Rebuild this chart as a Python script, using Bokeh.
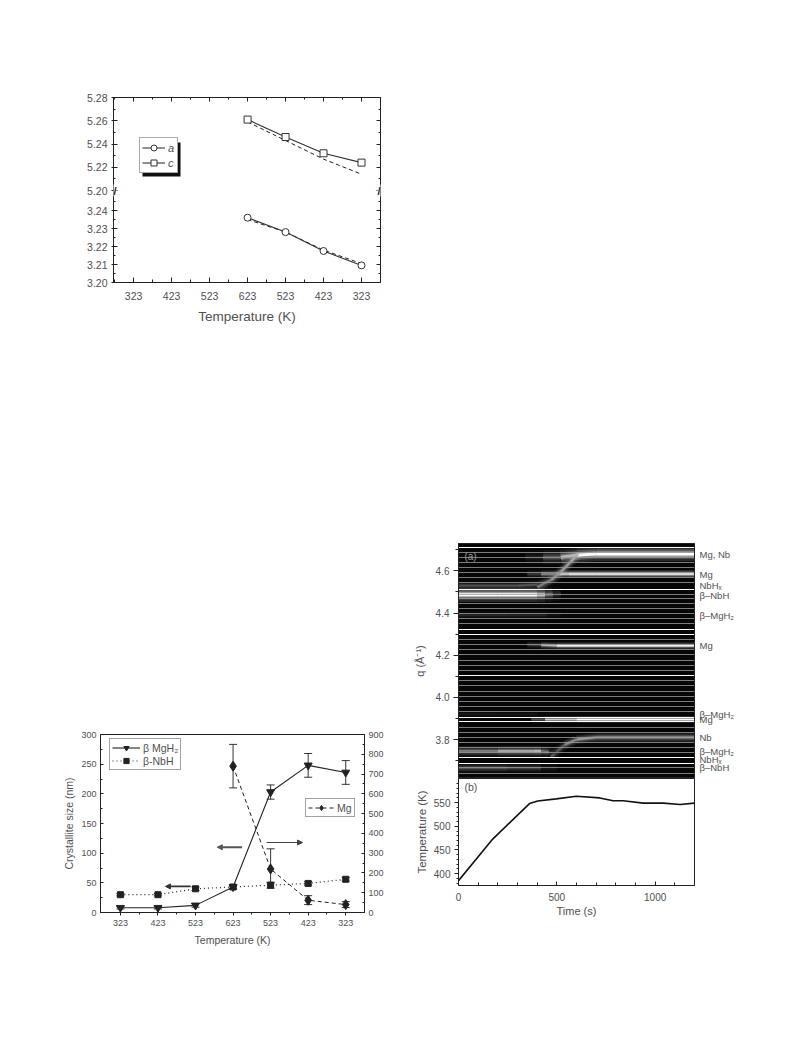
from bokeh.plotting import figure
from bokeh.layouts import column, row
from bokeh.models import (Range1d, LinearAxis, FixedTicker, Legend, LegendItem, Label, BoxAnnotation,
                          Arrow, NormalHead, TeeHead, Whisker, ColumnDataSource, Spacer, CustomJSTickFormatter,
                          NumeralTickFormatter)
from bokeh.embed import file_html
from bokeh.resources import INLINE

FONT = "Liberation Sans"
GREY = "#505050"

# ---------- panel 1: lattice parameters ----------
temp_labels = ["323", "423", "523", "623", "523", "423", "323"]
cool_idx = [3, 4, 5, 6]
lat_c = [5.261, 5.246, 5.232, 5.224]
lat_c_ref = [5.259, 5.243, 5.227, 5.214]
lat_a = [3.236, 3.228, 3.2175, 3.2095]
lat_a_ref = [3.235, 3.228, 3.218, 3.2105]
low_ticks = [3.20, 3.21, 3.22, 3.23, 3.24]
up_ticks = [5.20, 5.22, 5.24, 5.26, 5.28]

# ---------- panel 2: crystallite size ----------
idx = [0, 1, 2, 3, 4, 5, 6]
mgh2 = [8, 8, 12, 43, 203, 248, 236]
mgh2_err = [2, 2, 3, 4, 12, 20, 20]
nbh = [30, 30, 40, 43, 46, 49, 56]
nbh_err = [2, 2, 3, 3, 5, 3, 3]
mg_idx = [3, 4, 5, 6]
mg = [740, 220, 62, 40]
mg_low = [630, 150, 40, 25]
mg_up = [850, 322, 85, 55]

# ---------- panel 3a: in-situ diffraction bands ----------
band_t = [[340, 430, 520, 600, 700, 1200], [350, 420, 500, 560, 700, 1200], [0, 300, 400, 450], [0, 200, 400, 440, 480, 520],
          [400, 470, 520, 570, 610], [0, 250, 450, 520], [350, 420, 500, 1200], [0, 200, 400, 470],
          [370, 440, 600, 1200], [470, 540, 600, 700, 1200], [0, 200, 380, 420, 460, 500], [0, 250, 420, 500]]
band_q = [[4.665, 4.665, 4.665, 4.675, 4.68, 4.68], [4.585, 4.585, 4.585, 4.585, 4.585, 4.585], [4.53, 4.53, 4.535, 4.54],
          [4.487, 4.487, 4.487, 4.487, 4.49, 4.492],
          [4.524, 4.556, 4.595, 4.643, 4.68], [4.39, 4.39, 4.39, 4.39], [4.25, 4.248, 4.245, 4.245], [3.92, 3.92, 3.92, 3.92],
          [3.895, 3.895, 3.895, 3.895], [3.718, 3.775, 3.80, 3.81, 3.81], [3.745, 3.745, 3.745, 3.745, 3.74, 3.738],
          [3.665, 3.665, 3.665, 3.665]]
band_lv = [[0.05, 0.2, 0.5, 0.95, 1.0, 1.0], [0.05, 0.4, 0.7, 0.95, 0.95, 0.95], [0.3, 0.32, 0.35, 0.1], [1.0, 1.0, 1.0, 0.55, 0.3, 0.05],
           [0.45, 0.55, 0.6, 0.65, 0.7], [0.14, 0.16, 0.12, 0.02], [0.05, 0.5, 0.95, 0.95], [0.1, 0.12, 0.08, 0.02],
           [0.05, 0.6, 1.0, 1.0], [0.2, 0.5, 0.6, 0.6, 0.6], [0.45, 0.5, 0.8, 0.6, 0.3, 0.05], [0.35, 0.38, 0.2, 0.03]]
band_widths = [3.2, 1.8, 1.8, 3.2, 2.2, 1.8, 1.5, 1.3, 1.5, 2.0, 2.4, 2.0]
bright_lines = [4.710, 4.511, 4.321, 4.297, 4.103, 3.906, 3.885, 3.714, 3.688]
dim_lines = [4.686, 4.663, 4.639, 4.615, 4.591, 4.568, 4.544, 4.489, 4.468, 4.444, 4.420, 4.397, 4.373, 4.349,
             4.273, 4.249, 4.225, 4.202, 4.176, 4.152, 4.128, 4.078, 4.054, 4.030, 4.006, 3.982, 3.957, 3.933,
             3.859, 3.835, 3.810, 3.788, 3.763, 3.737, 3.666, 3.640]
phase_q = [4.68, 4.585, 4.53, 4.485, 4.39, 4.245, 3.92, 3.893, 3.81, 3.745, 3.705, 3.665]
phase_labels = ["Mg, Nb", "Mg", "NbHₓ", "β–NbH", "β–MgH₂", "Mg", "β–MgH₂", "Mg", "Nb", "β–MgH₂", "NbHₓ", "β–NbH"]

# ---------- panel 3b: temperature ramp ----------
time_s = [0, 174, 361, 403, 497, 599, 718, 786, 837, 939, 1042, 1127, 1200]
temp_k = [385, 473, 548, 553.5, 558, 563.5, 560, 554, 554, 549, 549, 546, 549]


def style_axis(ax, tick=10.5, label=13.5, standoff=4):
    ax.axis_line_color = "#222222"
    ax.major_tick_line_color = "#222222"
    ax.minor_tick_line_color = "#222222"
    ax.major_label_text_color = GREY
    ax.axis_label_text_color = GREY
    ax.major_label_text_font = FONT
    ax.axis_label_text_font = FONT
    ax.major_label_text_font_size = f"{tick}px"
    ax.axis_label_text_font_size = f"{label}px"
    ax.axis_label_text_font_style = "normal"
    ax.axis_label_standoff = standoff
    ax.major_label_standoff = 4


def mirror(p, side, ticker):
    ax = LinearAxis(ticker=ticker, formatter=CustomJSTickFormatter(code="return ''"), major_label_standoff=0,
                    axis_line_color="#222222", major_tick_line_color="#222222", minor_tick_line_color="#222222",
                    major_tick_in=4, major_tick_out=0, minor_tick_in=2, minor_tick_out=0)
    p.add_layout(ax, side)
    return ax


# ===== Panel 1 =====
low_start, low_end = 3.20, 3.20 + 185 / 1800
up_end = 5.28
up_start = 5.20 - 92 * 0.02 / 23.25
p1 = figure(frame_width=267, frame_height=185, x_range=Range1d(-0.53, 6.5), y_range=Range1d(low_start, low_end),
            output_backend="svg", toolbar_location=None, min_border_left=113, min_border_right=20,
            min_border_top=97, min_border_bottom=50, outline_line_color="#222222")
p1.extra_y_ranges = {"upper": Range1d(up_start, up_end)}
p1.grid.visible = False


def up_to_low(v):
    return low_start + (v - up_start) / (up_end - up_start) * (low_end - low_start)


lat_major = low_ticks + [up_to_low(v) for v in up_ticks]
lat_minor = [3.205, 3.215, 3.225, 3.235, 3.245] + [up_to_low(v) for v in [5.21, 5.23, 5.25, 5.27]]
lat_ticker = FixedTicker(ticks=lat_major, minor_ticks=lat_minor)
p1.yaxis.ticker = lat_ticker
p1.yaxis.major_label_overrides = {**{t: f"{t:.2f}" for t in low_ticks},
                                  **{up_to_low(t): f"{t:.2f}" for t in up_ticks}}
style_axis(p1.yaxis[0])
p1.yaxis.major_tick_in = 4
p1.yaxis.major_tick_out = 2
p1.yaxis.minor_tick_in = 2
p1.yaxis.minor_tick_out = 0
x_ticker = FixedTicker(ticks=idx, minor_ticks=[i + 0.5 for i in idx[:-1]] + [-0.5])
p1.xaxis.ticker = x_ticker
p1.xaxis.major_label_overrides = {i: s for i, s in zip(idx, temp_labels)}
style_axis(p1.xaxis[0], standoff=6)
p1.xaxis.axis_label = "Temperature (K)"
p1.xaxis.major_tick_in = 5
p1.xaxis.major_tick_out = 0
p1.xaxis.minor_tick_in = 3
p1.xaxis.minor_tick_out = 0
p1.xaxis.major_label_standoff = 9
mirror(p1, "above", x_ticker)
mirror(p1, "right", lat_ticker)

p1.line(cool_idx, lat_c_ref, y_range_name="upper", line_color="#222222", line_dash="4 3", line_width=1)
p1.line(cool_idx, lat_a_ref, line_color="#222222", line_dash="4 3", line_width=1)
l_c = p1.line(cool_idx, lat_c, y_range_name="upper", line_color="#333333", line_width=1.1)
m_c = p1.scatter(cool_idx, lat_c, y_range_name="upper", marker="square", size=7, fill_color="white", line_color="#333333")
l_a = p1.line(cool_idx, lat_a, line_color="#333333", line_width=1.1)
m_a = p1.scatter(cool_idx, lat_a, marker="circle", size=7, fill_color="white", line_color="#333333")

p1.add_layout(BoxAnnotation(left=29, right=67, top=140, bottom=106, left_units="screen", right_units="screen",
                            top_units="screen", bottom_units="screen", fill_color="#111111", fill_alpha=1,
                            line_color=None))
leg1 = Legend(items=[LegendItem(label="a", renderers=[l_a, m_a]), LegendItem(label="c", renderers=[l_c, m_c])],
              location=(26, 109), margin=0, padding=2, spacing=0, glyph_width=23, glyph_height=15, label_standoff=3,
              label_width=7, label_text_font=FONT, label_text_font_size="11px", label_text_font_style="italic",
              label_text_color=GREY, border_line_color="#555555", background_fill_color="white", background_fill_alpha=1)
p1.add_layout(leg1)
p1.add_layout(Label(x=-41, y=79, x_units="screen", y_units="screen", text="Lattice parameters (Å)", angle=1.5708,
                    angle_units="rad", text_align="center", text_baseline="middle", text_font=FONT,
                    text_font_size="13.5px", text_color=GREY))
for sx in (0, 267):
    p1.add_layout(Label(x=sx, y=92, x_units="screen", y_units="screen", text="//", text_align="center",
                        text_baseline="middle", text_font=FONT, text_font_size="11px", text_font_style="bold",
                        text_color="#222222", background_fill_color="white", background_fill_alpha=1))

# ===== Panel 2 =====
p2 = figure(frame_width=264, frame_height=178, x_range=Range1d(-0.53, 6.5), y_range=Range1d(0, 300),
            output_backend="svg", toolbar_location=None, min_border_left=100, min_border_right=36,
            min_border_top=20, min_border_bottom=50, outline_line_color="#222222")
p2.extra_y_ranges = {"mg": Range1d(0, 900)}
p2.grid.visible = False
p2.yaxis.ticker = FixedTicker(ticks=[0, 50, 100, 150, 200, 250, 300], minor_ticks=[25, 75, 125, 175, 225, 275])
style_axis(p2.yaxis[0], tick=9, label=10.5, standoff=3)
p2.yaxis.axis_label = "Crystallite size (nm)"
p2.yaxis.major_tick_in = 3
p2.yaxis.major_tick_out = 0
p2.yaxis.minor_tick_in = 2
p2.yaxis.minor_tick_out = 0
p2.xaxis.ticker = FixedTicker(ticks=idx, minor_ticks=[i + 0.5 for i in idx[:-1]])
p2.xaxis.major_label_overrides = {i: s for i, s in zip(idx, temp_labels)}
style_axis(p2.xaxis[0], tick=9, label=10.5, standoff=5)
p2.xaxis.axis_label = "Temperature (K)"
p2.xaxis.major_tick_in = 0
p2.xaxis.major_tick_out = 3
p2.xaxis.minor_tick_in = 0
p2.xaxis.minor_tick_out = 2
r_ax = LinearAxis(y_range_name="mg", ticker=FixedTicker(ticks=list(range(0, 901, 100)),
                                                        minor_ticks=list(range(50, 900, 100))))
style_axis(r_ax, tick=9, label=10.5)
r_ax.major_tick_in = 3
r_ax.major_tick_out = 0
r_ax.minor_tick_in = 2
r_ax.minor_tick_out = 0
p2.add_layout(r_ax, "right")

src_m = ColumnDataSource(dict(x=idx, low=[a - b for a, b in zip(mgh2, mgh2_err)], up=[a + b for a, b in zip(mgh2, mgh2_err)]))
src_n = ColumnDataSource(dict(x=idx, low=[a - b for a, b in zip(nbh, nbh_err)], up=[a + b for a, b in zip(nbh, nbh_err)]))
src_g = ColumnDataSource(dict(x=mg_idx, low=mg_low, up=mg_up))
for src, rng in ((src_m, "default"), (src_n, "default"), (src_g, "mg")):
    p2.add_layout(Whisker(source=src, base="x", lower="low", upper="up", y_range_name=rng, line_color="#333333",
                          upper_head=TeeHead(size=8, line_color="#333333"), lower_head=TeeHead(size=8, line_color="#333333")))
l_m = p2.line(idx, mgh2, line_color="#222222", line_width=1.1)
m_m = p2.scatter(idx, mgh2, marker="inverted_triangle", size=8, color="#222222")
l_n = p2.line(idx, nbh, line_color="#222222", line_width=1.2, line_dash="1 3")
m_n = p2.scatter(idx, nbh, marker="square", size=6, color="#222222")
l_g = p2.line(mg_idx, mg, y_range_name="mg", line_color="#222222", line_width=1, line_dash="4 3")
m_g = p2.scatter(mg_idx, mg, y_range_name="mg", marker="diamond", size=10, fill_color="#222222", line_color="#222222")

p2.add_layout(Legend(items=[LegendItem(label="β MgH₂", renderers=[l_m, m_m]), LegendItem(label="β-NbH", renderers=[l_n, m_n])],
                     location=(9, 142), margin=0, padding=2, spacing=0, glyph_width=28, glyph_height=13, label_standoff=3,
                     label_text_font=FONT, label_text_font_size="10.5px", label_text_color=GREY,
                     border_line_color="#444444", background_fill_color="white", background_fill_alpha=1))
p2.add_layout(Legend(items=[LegendItem(label="Mg", renderers=[l_g, m_g])],
                     location=(205, 95), margin=0, padding=2, spacing=0, glyph_width=26, glyph_height=13, label_standoff=3,
                     label_width=14, label_text_font=FONT, label_text_font_size="10.5px", label_text_color=GREY,
                     border_line_color="#444444", background_fill_color="white", background_fill_alpha=1))
for xs, xe, y, col, w in ((3.24, 2.58, 110, "#555555", 2), (3.89, 4.85, 118, "#444444", 1), (1.87, 1.2, 44, "#333333", 1.6)):
    p2.add_layout(Arrow(end=NormalHead(size=5, fill_color=col, line_color=col), x_start=xs, y_start=y, x_end=xe, y_end=y,
                        line_color=col, line_width=w))

# ===== Panel 3a =====
ph = figure(frame_width=236, frame_height=235, x_range=Range1d(0, 1200), y_range=Range1d(3.615, 4.73),
            output_backend="svg", toolbar_location=None, min_border_left=58, min_border_right=70,
            min_border_top=23, min_border_bottom=0, outline_line_color="#222222",
            background_fill_color="#060606")
ph.grid.visible = False
ph.xaxis.visible = False
ph.yaxis.ticker = FixedTicker(ticks=[3.8, 4.0, 4.2, 4.4, 4.6], minor_ticks=[3.7, 3.9, 4.1, 4.3, 4.5, 4.7])
ph.yaxis.formatter = NumeralTickFormatter(format="0.0")
style_axis(ph.yaxis[0], tick=10, label=11, standoff=7)
ph.yaxis.axis_label = "q (Å⁻¹)"
ph.yaxis.major_tick_in = 0
ph.yaxis.major_tick_out = 5
ph.yaxis.minor_tick_in = 0
ph.yaxis.minor_tick_out = 3


def gray(v):
    g = int(max(0, min(1, v)) * 255)
    return f"#{g:02x}{g:02x}{g:02x}"


for layer_w, layer_a in ((4.5, 0.14), (3.0, 0.22), (1.8, 0.4), (0.9, 1.0)):
    xs, ys, cs, ws = [], [], [], []
    for t, q, lv, w in zip(band_t, band_q, band_lv, band_widths):
        for i in range(len(t) - 1):
            xs.append([t[i], t[i + 1]])
            ys.append([q[i], q[i + 1]])
            cs.append(gray((lv[i] + lv[i + 1]) / 2))
            ws.append(layer_w * w)
    ph.multi_line(xs, ys, line_color=cs, line_width=ws, line_alpha=layer_a, line_cap="butt")
ph.hspan(y=dim_lines, line_color="#9a9a9a", line_width=0.8)
ph.hspan(y=bright_lines, line_color="white", line_width=1.2)
ph.add_layout(Label(x=30, y=4.67, text="(a)", text_font=FONT, text_font_size="10px", text_color="#999999",
                    text_baseline="middle"))
rax = LinearAxis(ticker=FixedTicker(ticks=phase_q), major_label_overrides={q: s for q, s in zip(phase_q, phase_labels)})
style_axis(rax, tick=9.5)
rax.major_tick_in = 0
rax.major_tick_out = 0
rax.minor_tick_line_color = None
rax.major_label_standoff = 5
ph.add_layout(rax, "right")

# ===== Panel 3b =====
pt = figure(frame_width=236, frame_height=107, x_range=Range1d(0, 1200), y_range=Range1d(375, 601),
            output_backend="svg", toolbar_location=None, min_border_left=58, min_border_right=70,
            min_border_top=0, min_border_bottom=45, outline_line_color="#222222")
pt.grid.visible = False
pt.yaxis.ticker = FixedTicker(ticks=[400, 450, 500, 550], minor_ticks=list(range(380, 600, 10)))
style_axis(pt.yaxis[0], tick=10, label=11.5, standoff=3)
pt.yaxis.axis_label = "Temperature (K)"
pt.yaxis.major_tick_in = 0
pt.yaxis.major_tick_out = 4
pt.yaxis.minor_tick_in = 0
pt.yaxis.minor_tick_out = 2
pt.xaxis.ticker = FixedTicker(ticks=[0, 500, 1000], minor_ticks=list(range(100, 1200, 100)))
style_axis(pt.xaxis[0], tick=10, label=11, standoff=1)
pt.xaxis.axis_label = "Time (s)"
pt.xaxis.major_tick_in = 4
pt.xaxis.major_tick_out = 0
pt.xaxis.minor_tick_in = 3
pt.xaxis.minor_tick_out = 0
pt.xaxis.major_label_standoff = 7
pt.line(time_s, temp_k, line_color="#111111", line_width=1.6)
pt.add_layout(Label(x=30, y=583, text="(b)", text_font=FONT, text_font_size="10.5px", text_color=GREY,
                    text_baseline="middle"))

left = column(row(p1), Spacer(width=10, height=382), row(p2), spacing=0)
right = column(Spacer(width=10, height=520), ph, pt, spacing=0)
page = row(left, right, spacing=0)
open("out.html", "w").write(file_html(page, INLINE))
